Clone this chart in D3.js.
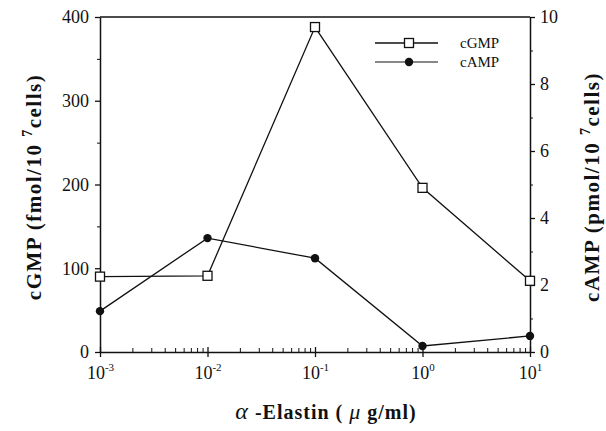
<!DOCTYPE html>
<html><head><meta charset="utf-8">
<script src="https://cdn.jsdelivr.net/npm/d3@7"></script>
<style>
html,body{margin:0;padding:0;background:#fff;}
svg{display:block;}
text{font-family:"Liberation Serif","Times New Roman",serif;fill:#111;}
</style></head>
<body>
<svg id="chart" width="606" height="431"></svg>
<script>
const doses = [0.001, 0.01, 0.1, 1, 10];
const cGMP = [90, 91, 388, 196, 85];
const cAMP = [1.22, 3.4, 2.8, 0.18, 0.48];
const xTicks = [0.001, 0.01, 0.1, 1, 10];
const xTickExp = ["-3", "-2", "-1", "0", "1"];
const leftTicks = [0, 100, 200, 300, 400];
const leftMinor = [50, 150, 250, 350];
const rightTicks = [0, 2, 4, 6, 8, 10];
const rightMinor = [1, 3, 5, 7, 9];
const seriesNames = ["cGMP", "cAMP"];

const svg = d3.select("#chart");
const L = 100, R = 530, T = 17, B = 352;
const x = d3.scaleLog().domain([0.001, 10]).range([L, R]);
const yL = d3.scaleLinear().domain([0, 400]).range([B, T]);
const yR = d3.scaleLinear().domain([0, 10]).range([B, T]);
const ink = "#111";

// frame (top line)
svg.append("line").attr("x1", L).attr("x2", R).attr("y1", T).attr("y2", T)
  .attr("stroke", ink).attr("stroke-width", 1.5);

// x minor ticks (inward)
const xMinor = x.ticks().filter(v => !xTicks.some(t => Math.abs(Math.log10(v) - Math.log10(t)) < 1e-9));
svg.append("g").attr("transform", `translate(0,${B})`)
  .call(d3.axisBottom(x).tickValues(xMinor).tickSize(-4).tickFormat(""))
  .call(g => g.select(".domain").remove())
  .selectAll("line").attr("stroke", ink).attr("stroke-width", 1);

// x major axis
const gx = svg.append("g").attr("transform", `translate(0,${B})`)
  .call(d3.axisBottom(x).tickValues(xTicks).tickSize(5).tickSizeOuter(0).tickFormat(""));
gx.select(".domain").attr("stroke", ink).attr("stroke-width", 1.5);
gx.selectAll(".tick line").attr("stroke", ink).attr("stroke-width", 1.3).attr("y1", -5);
gx.selectAll(".tick").each(function(d, i) {
  const t = d3.select(this).append("text").attr("y", 27).attr("text-anchor", "middle")
    .attr("font-size", 18).attr("fill", ink);
  t.append("tspan").text("10");
  t.append("tspan").attr("font-size", 11).attr("dy", -8).text(xTickExp[i]);
});

// left axis
svg.append("g").attr("transform", `translate(${L},0)`)
  .call(d3.axisLeft(yL).tickValues(leftMinor).tickSize(3).tickFormat(""))
  .call(g => g.select(".domain").remove())
  .selectAll("line").attr("stroke", ink);
const gl = svg.append("g").attr("transform", `translate(${L},0)`)
  .call(d3.axisLeft(yL).tickValues(leftTicks).tickSize(5).tickSizeOuter(0).tickPadding(6));
gl.select(".domain").attr("stroke", ink).attr("stroke-width", 1.5);
gl.selectAll(".tick line").attr("stroke", ink).attr("stroke-width", 1.3);
gl.selectAll(".tick text").attr("font-size", 18).attr("font-family", "Liberation Serif").attr("fill", ink);

// right axis
svg.append("g").attr("transform", `translate(${R},0)`)
  .call(d3.axisRight(yR).tickValues(rightMinor).tickSize(3).tickFormat(""))
  .call(g => g.select(".domain").remove())
  .selectAll("line").attr("stroke", ink);
const gr = svg.append("g").attr("transform", `translate(${R},0)`)
  .call(d3.axisRight(yR).tickValues(rightTicks).tickSize(5).tickSizeOuter(0).tickPadding(5));
gr.select(".domain").attr("stroke", ink).attr("stroke-width", 1.5);
gr.selectAll(".tick line").attr("stroke", ink).attr("stroke-width", 1.3);
gr.selectAll(".tick text").attr("font-size", 18).attr("font-family", "Liberation Serif").attr("fill", ink);

// lines
const lineG = d3.line().x((d, i) => x(doses[i])).y(d => yL(d));
const lineA = d3.line().x((d, i) => x(doses[i])).y(d => yR(d));
svg.append("path").datum(cAMP).attr("d", lineA).attr("fill", "none").attr("stroke", ink).attr("stroke-width", 1.3);
svg.append("path").datum(cGMP).attr("d", lineG).attr("fill", "none").attr("stroke", ink).attr("stroke-width", 1.3);

// markers
svg.selectAll(".ma").data(cAMP).join("circle")
  .attr("cx", (d, i) => x(doses[i])).attr("cy", d => yR(d)).attr("r", 4.2).attr("fill", ink);
svg.selectAll(".mg").data(cGMP).join("rect")
  .attr("x", (d, i) => x(doses[i]) - 4.5).attr("y", d => yL(d) - 4.5)
  .attr("width", 9).attr("height", 9).attr("fill", "#fff").attr("stroke", ink).attr("stroke-width", 1.3);

// legend
const lg = svg.append("g");
[43, 62].forEach((ly, i) => {
  lg.append("line").attr("x1", 375).attr("x2", 438).attr("y1", ly).attr("y2", ly)
    .attr("stroke", ink).attr("stroke-width", i === 0 ? 1.3 : 1);
  if (i === 0) lg.append("rect").attr("x", 404.5).attr("y", ly - 4.5).attr("width", 9).attr("height", 9)
    .attr("fill", "#fff").attr("stroke", ink).attr("stroke-width", 1.3);
  else lg.append("circle").attr("cx", 409).attr("cy", ly).attr("r", 4.2).attr("fill", ink);
  lg.append("text").attr("x", 460).attr("y", ly + 5).attr("font-size", 15).text(seriesNames[i]);
});

// axis titles
const xt = svg.append("text").attr("x", 326).attr("y", 419).attr("text-anchor", "middle")
  .attr("font-size", 20).attr("font-weight", "bold").attr("letter-spacing", 1);
xt.append("tspan").attr("font-style", "italic").attr("font-weight", "normal").attr("font-size", 24).text("α");
xt.append("tspan").text(" -Elastin ( ");
xt.append("tspan").attr("font-style", "italic").attr("font-weight", "normal").attr("font-size", 22).text("μ");
xt.append("tspan").text(" g/ml)");

function yTitle(tx, label) {
  const t = svg.append("text").attr("transform", `translate(${tx},187) rotate(-90)`)
    .attr("text-anchor", "middle").attr("font-size", 21).attr("font-weight", "bold")
    .attr("letter-spacing", 1.5);
  t.append("tspan").text(label + " (");
  t.append("tspan").text(label === "cGMP" ? "fmol/10 " : "pmol/10 ");
  t.append("tspan").attr("font-size", 14).attr("dy", -9).text("7");
  t.append("tspan").attr("dy", 9).text("cells)");
}
yTitle(41, "cGMP");
yTitle(599, "cAMP");
</script>
</body></html>
